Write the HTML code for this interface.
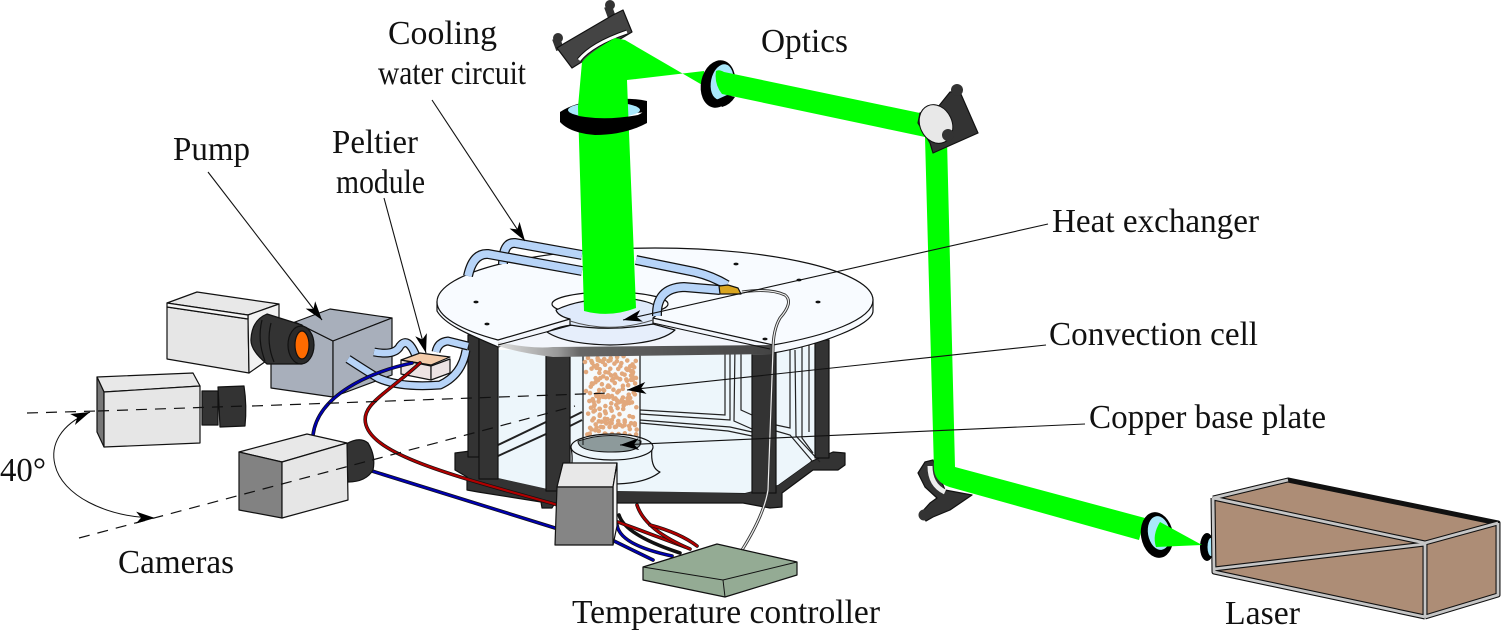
<!DOCTYPE html>
<html><head><meta charset="utf-8"><style>
html,body{margin:0;padding:0;background:#fff}
svg{display:block}
text{font-family:"Liberation Serif",serif;font-size:34px;fill:#111}
.k{stroke:#111;stroke-width:1.2;stroke-linejoin:round}
</style></head><body>
<svg width="1501" height="635" viewBox="0 0 1501 635" xmlns="http://www.w3.org/2000/svg">
<defs>
<marker id="a" markerUnits="userSpaceOnUse" markerWidth="22" markerHeight="14" refX="20" refY="7" orient="auto"><path d="M20,7 L1,1 L6,7 L1,13Z" fill="#000"/></marker>
<linearGradient id="band" x1="0" x2="1" y1="0" y2="0"><stop offset="0" stop-color="#ddd"/><stop offset=".22" stop-color="#999"/><stop offset=".3" stop-color="#666"/><stop offset="1" stop-color="#444"/></linearGradient>
</defs>

<!-- base / feet -->
<path class="k" fill="#333" d="M455,453 L478,450 L500,468 L500,478 L546,488 L745,493 L778,485 L810,462 L833,452 L845,453 L845,465 L838,470 L813,470 L782,493 L782,507 L770,508 L743,503 L555,503 L552,508 L542,508 L541,502 L478,492 L467,490 L467,477 L455,470Z"/>
<!-- glass -->
<path fill="#edf6fb" d="M498,350 L772,350 L829,345 L815,456 L810,462 L778,485 L745,493 L552,490 L498,478Z"/>
<!-- back panes -->
<g fill="none" stroke="#222" stroke-width="1.2">
<path d="M725,342 L725,415 L640,410"/><path d="M730,342 L730,420 L640,414"/>
<path d="M735,345 L734,421 L752,429"/><path d="M741,345 L741,410 L752,415"/>
<path d="M640,420 L730,427 L752,432"/><path d="M640,423 L728,431 L752,436"/>
<path d="M790,350 L790,428 L776,425"/><path d="M795,350 L796,436 L820,462"/><path d="M802,345 L802,438 L813,453"/><path d="M809,345 L809,432"/>
<path d="M776,431 L790,435 L813,462"/>
</g>
<g fill="none" stroke="#222" stroke-width="2"><path d="M498,445 L546,422"/><path d="M498,456 L546,434"/><path d="M570,418 L582,412"/><path d="M570,426 L582,420"/></g>
<!-- back posts -->
<rect class="k" x="468" y="335" width="11" height="122" fill="#333"/>
<rect class="k" x="815" y="340" width="14" height="118" fill="#333"/>
<!-- cylinder -->
<path class="k" fill="#f6fafc" d="M583,352 L640,352 L640,445 L583,445Z"/>
<g fill="none" stroke="#e2a87c" stroke-width="4.6" stroke-linecap="round" stroke-dasharray="0 6.5">
<path d="M588,358 L600,372 L590,386 L612,370 L596,358 L622,362 L610,384 L596,396 L622,378 L636,360 L630,384 L612,396 L588,400 L604,412 L628,398 L637,408"/>
<path d="M586,372 L606,360 L634,372 L618,392 L602,384 L588,414 L610,404 L634,392 L620,414 L596,424 L586,436 L612,420 L636,424 L624,434 L604,434"/>
<path d="M594,366 L616,378 L630,368 L638,392 L622,404 L606,394 L592,408 L616,428 L632,414 L638,434 L616,438 L596,430"/>
<path d="M585,362 L625,356 L637,380 L600,378 L585,392 L632,402 L590,420 L630,426 L588,428"/>
</g>
<!-- pedestal -->
<path class="k" fill="#edf6fb" d="M571,447 Q575,470 565,476 Q585,484 612,484 Q645,484 660,472 Q650,468 652,448Z"/>
<ellipse class="k" cx="612" cy="447" rx="41" ry="13" fill="#edf6fb"/>
<path d="M578,441 Q578,452 612,452 Q642,452 641,441 Q612,430 578,441Z" fill="#8d9a9b" stroke="#111"/>
<path d="M583,420 L583,445 M640,420 L640,445" stroke="#111" fill="none"/>
<!-- front posts -->
<rect class="k" x="479" y="338" width="19" height="141" fill="#333"/>
<rect class="k" x="546" y="350" width="24" height="141" fill="#333"/>
<rect class="k" x="752" y="350" width="24" height="143" fill="#333"/>
<!-- disc -->
<path fill="#f8fbff" stroke="#111" stroke-width="1.2" d="M437,302 L437,311 C445,325 470,335 498,347 L572,326 L653,325 L773,353 C820,345 873,325 873,311 L873,300Z"/>
<path fill="#f3f6fc" d="M498,342 L570,319 L653,318 L773,345 L772,354 L553,356Z"/>
<path class="k" fill="#e6eefb" d="M547,332 Q560,326 572,325 L653,324 L675,330 Q660,344 610,345 Q565,344 547,332Z"/>
<path fill="url(#band)" d="M498,342 Q530,349 553,347 L772,345 L772,354 L553,357 Q520,353 498,346Z"/>
<path class="k" fill="#f8fbff" d="M498,340 C460,330 437,316 437,302 C437,272 535,248 655,248 C775,248 873,272 873,300 C873,320 825,336 773,345 L653,318 L570,319Z"/>
<path d="M498,345 L572,325 M653,323 L770,349" stroke="#111" fill="none"/>
<ellipse class="k" cx="610" cy="304" rx="58" ry="12" fill="#fff"/>
<path class="k" fill="#dfeafb" d="M570,325 L570,319 Q558,316 556,310 Q580,298 625,298 Q660,302 660,312 L653,318 L653,324 Q610,332 570,325Z"/>
<path d="M570,321 Q610,334 653,320" stroke="#555" fill="none"/>
<g fill="#111"><ellipse cx="476" cy="302" rx="2.6" ry="1.4"/><ellipse cx="487" cy="324" rx="2.6" ry="1.4"/><ellipse cx="736" cy="264" rx="2.6" ry="1.4"/><ellipse cx="799" cy="280" rx="2.6" ry="1.4"/><ellipse cx="818" cy="302" rx="2.6" ry="1.4"/><ellipse cx="765" cy="339" rx="2.6" ry="1.4"/></g>
<!-- tubes on disc -->
<g fill="none">
<path stroke="#111" stroke-width="10" d="M503,264 Q503,242 515,243 L582,255"/>
<path stroke="#b7d4f8" stroke-width="7.5" d="M503,264 Q503,242 515,243 L582,255"/>
<path stroke="#111" stroke-width="10" d="M468,276 Q473,253 488,254 L582,271"/>
<path stroke="#b7d4f8" stroke-width="7.5" d="M468,276 Q473,253 488,254 L582,271"/>
<path stroke="#111" stroke-width="10" d="M636,260 L695,272 Q712,276 727,285"/>
<path stroke="#b7d4f8" stroke-width="7.5" d="M636,260 L695,272 Q712,276 727,285"/>
<path stroke="#111" stroke-width="10" d="M657,316 Q656,288 684,287 L720,290"/>
<path stroke="#b7d4f8" stroke-width="7.5" d="M657,316 Q656,288 684,287 L720,290"/>
</g>
<path class="k" fill="#d9a520" d="M719,286 L728,285 L738,288 L741,294 L720,294Z"/>
<!-- wire -->
<g fill="none"><path stroke="#333" stroke-width="3" d="M742,292 Q770,288 785,295 Q794,302 780,318 Q773,330 773,350 L768,490 Q764,515 742,550"/><path stroke="#eee" stroke-width="1.2" d="M742,292 Q770,288 785,295 Q794,302 780,318 Q773,330 773,350 L768,490 Q764,515 742,550"/></g>
<!-- pump box -->
<path class="k" fill="#a8afbb" d="M271,340 L295,322 L333,341 L333,397 L271,388Z"/>
<path class="k" fill="#a8afbb" d="M295,322 L330,309 L392,318 L333,341Z"/>
<path class="k" fill="#a8afbb" d="M333,341 L392,318 L392,375 L333,397Z"/>
<!-- Peltier tubes -->
<g fill="none">
<path stroke="#111" stroke-width="9" d="M374,352 Q395,356 400,346 Q408,336 416,356"/>
<path stroke="#b7d4f8" stroke-width="6.5" d="M374,352 Q395,356 400,346 Q408,336 416,356"/>
<path stroke="#111" stroke-width="9" d="M348,359 Q368,372 378,378 Q400,388 440,385 Q462,375 466,350"/>
<path stroke="#b7d4f8" stroke-width="6.5" d="M348,359 Q368,372 378,378 Q400,388 440,385 Q462,375 466,350"/>
<path stroke="#111" stroke-width="9" d="M436,352 Q438,342 448,341 L468,346"/>
<path stroke="#b7d4f8" stroke-width="6.5" d="M436,352 Q438,342 448,341 L468,346"/>
</g>
<path class="k" fill="#ede3e3" d="M401,360 L431,366 L431,380 L401,374Z"/><path class="k" fill="#ede3e3" d="M431,366 L450,359 L450,373 L431,380Z"/>
<path class="k" fill="#f4ccaa" d="M401,360 L420,353 L450,357 L431,365Z"/>
<!-- cables -->
<g fill="none" stroke-linecap="round">
<path stroke="#111" stroke-width="3.6" d="M412,363 C370,372 318,395 313,435"/><path stroke="#0000b0" stroke-width="2.2" d="M412,363 C370,372 318,395 313,435"/>
<path stroke="#111" stroke-width="3.6" d="M372,471 L555,528"/><path stroke="#0000b0" stroke-width="2.2" d="M372,471 L555,528"/>
<path stroke="#111" stroke-width="3.6" d="M420,363 C385,395 360,405 366,425 C375,455 450,475 558,505"/><path stroke="#b00000" stroke-width="2.2" d="M420,363 C385,395 360,405 366,425 C375,455 450,475 558,505"/>
<path stroke="#111" stroke-width="3.6" d="M612,540 L653,560"/><path stroke="#0000b0" stroke-width="2.2" d="M612,540 L653,560"/>
<path stroke="#111" stroke-width="3.6" d="M617,525 Q620,545 672,556"/><path stroke="#0000b0" stroke-width="2.2" d="M617,525 Q620,545 672,556"/>
<path stroke="#111" stroke-width="3.6" d="M619,515 Q625,535 680,553"/>
<path stroke="#111" stroke-width="3.6" d="M618,522 L685,547"/><path stroke="#b00000" stroke-width="2.2" d="M618,522 L685,547"/>
<path stroke="#111" stroke-width="3.6" d="M637,505 Q645,530 690,549"/><path stroke="#b00000" stroke-width="2.2" d="M637,505 Q645,530 690,549"/>
<path stroke="#111" stroke-width="3.6" d="M650,525 Q680,533 697,546"/><path stroke="#b00000" stroke-width="2.2" d="M650,525 Q680,533 697,546"/>
</g>
<!-- small box -->
<path class="k" fill="#e8e8e8" d="M563,463 L617,463 L613,487 L557,487Z"/>
<path class="k" fill="#f2f2f2" d="M613,487 L617,463 L617,526 L613,545Z"/>
<path class="k" fill="#858585" d="M557,487 L613,487 L613,545 L555,545Z"/>
<!-- controller -->
<path class="k" fill="#94ab94" d="M643,567 L717,544 L797,562 L797,575 L725,597 L643,580Z"/>
<path stroke="#111" fill="none" d="M643,567 L723,580 L797,562 M723,580 L725,597"/>
<!-- cameras -->
<g class="k">
<path fill="#e8e8e8" d="M167,303 L197,292 L279,304 L248,315Z"/><path fill="#e6e6e6" d="M167,307 L248,319 L249,373 L167,359Z"/><path fill="#f2f2f2" d="M248,315 L279,304 L279,352 L249,373Z"/>
<path d="M167,303 L248,315 L248,319 L167,307Z" fill="#f6f6f6"/>
<path fill="#333" d="M267,314 L302,325 L314,345 L302,364 L267,364 Q250,350 251,339 Q252,320 267,314Z"/>
<ellipse cx="301" cy="345" rx="13" ry="19" fill="#2a2a2a"/><ellipse cx="302" cy="345" rx="7" ry="14" fill="#ff6b00"/>
<path fill="none" d="M262,320 Q257,340 265,361 M271,323 Q266,343 274,362"/>

<path fill="#e8e8e8" d="M97,377 L193,373 L200,386 L104,392Z"/><path fill="#777" d="M97,377 L104,392 L104,447 L97,432Z"/><path fill="#e6e6e6" d="M104,392 L200,386 L200,443 L104,447Z"/>
<path fill="#333" d="M202,391 L218,391 L218,425 L202,425Z"/><path fill="#333" d="M218,387 L244,386 Q247,406 245,426 L220,427Z"/>

<path fill="#333" d="M346,444 Q360,436 368,443 Q376,456 373,470 Q366,482 348,482Z"/>
<path fill="#e8e8e8" d="M239,452 L307,434 L347,443 L282,462Z"/><path fill="#828282" d="M239,452 L282,462 L282,518 L239,510Z"/><path fill="#e6e6e6" d="M282,462 L347,443 L348,500 L282,518Z"/>
</g>
<!-- dashed lines -->
<g fill="none" stroke="#111" stroke-width="1.2" stroke-dasharray="11 8">
<path d="M27,413 L98,411"/><path d="M98,411 L245,406"/><path d="M252,406 L610,393"/>
<path d="M79,538 L372,460"/><path d="M372,460 L575,406"/>
</g>
<path fill="none" stroke="#111" stroke-width="1" marker-end="url(#a)" d="M55,465 C62,495 105,517 155,518"/>
<path fill="none" stroke="#111" stroke-width="1" marker-end="url(#a)" d="M55,465 C50,445 60,425 90,412"/>
<!-- mirror 1 -->
<circle cx="558" cy="38" r="5" fill="#333"/><rect x="554" y="38" width="8" height="12" fill="#333" transform="rotate(-20 558 44)"/>
<circle cx="610" cy="5" r="5" fill="#333"/><rect x="606" y="6" width="8" height="12" fill="#333" transform="rotate(-20 610 12)"/>
<path class="k" fill="#444" d="M557,48 L565,43 L613,15 L623,10 L632,32 L580,63 L572,68Z"/>
<path fill="none" stroke="#111" stroke-width="5" d="M579,60 Q592,44 627,32"/>
<path fill="none" stroke="#fff" stroke-width="3" d="M579,60 Q592,44 627,32"/>
<!-- mirror 3 -->
<path class="k" fill="#333" d="M918,473 L925,462 L933,460 L945,490 L972,495 L950,510 L933,517 L926,521 L921,513 L930,503 L937,498 L925,487Z"/>
<circle cx="924" cy="515" r="5.5" fill="#333"/>
<path fill="none" stroke="#eee" stroke-width="5" d="M930,466 Q930,485 945,492"/>
<!-- top ring back -->
<path fill="#000" d="M560,112 Q575,102 600,100 Q630,97 647,101 L647,112 L560,120Z"/>
<ellipse cx="604" cy="110" rx="36" ry="8" fill="#a8e8fb"/>
<!-- beam A -->
<path fill="#00ff00" d="M582,62 Q590,52 615,38 L625,40 L704,86 L704,71 L627,80 L628,107 L636,308 Q610,318 584,311 L578,107Z"/>
<!-- top ring front -->
<path fill="#000" d="M560,112 Q566,113 570,114 Q600,122 638,115 Q645,112 647,106 L647,123 Q625,135 595,135 Q570,133 560,122Z"/>
<!-- lens 2 -->
<ellipse cx="718" cy="84" rx="17" ry="24" fill="#000" transform="rotate(12 718 84)"/>
<ellipse cx="722" cy="82" rx="11" ry="18" fill="#a8e8fb" transform="rotate(12 722 82)"/>
<!-- beam B: lens 2 to mirror 3 -->
<path fill="#00ff00" d="M716,71 Q719,69 724,72 L920,113 L925,127 L947,140 L955,467 L1145,518 L1139,540 L953,488 Q936,484 934,470 L925,137 L722,94 Q714,84 716,71Z"/>
<path fill="#000" d="M727,95 L735,97 Q730,105 722,107 L716,100Z"/>
<!-- lens 3 -->
<ellipse cx="1157" cy="535" rx="16" ry="23" fill="#000" transform="rotate(-10 1157 535)"/>
<ellipse cx="1159" cy="533" rx="11" ry="17" fill="#a8e8fb" transform="rotate(-10 1159 533)"/>
<!-- lens 4 -->
<ellipse cx="1207" cy="547" rx="7" ry="14" fill="#000"/>
<ellipse cx="1211" cy="547" rx="3.5" ry="9" fill="#a8e8fb"/>
<!-- cone -->
<path fill="#00ff00" d="M1160,522 L1202,545 L1156,547 Q1152,535 1160,522Z"/>
<!-- mirror 2 -->
<path class="k" fill="#333" d="M920,113 L938,107 L950,92 L960,92 L978,133 L933,153 L930,143 L918,123Z"/>
<circle cx="957" cy="90" r="6" fill="#333"/>
<ellipse cx="936" cy="124" rx="16" ry="20" fill="#e8e8e8" stroke="#111" transform="rotate(-25 936 124)"/>
<circle cx="948" cy="135" r="6" fill="#333"/>
<!-- laser -->
<path fill="#ad8d76" stroke="#111" stroke-width="1.4" stroke-linejoin="round" d="M1213,498 L1288,480 L1498,523 L1498,595 L1425,617 L1214,572Z"/>
<g fill="none" stroke="#111" stroke-width="5" stroke-linejoin="round">
<path d="M1213,498 L1425,543 L1498,523 M1425,543 L1425,617 M1213,498 L1214,572 L1425,617 M1214,569 L1425,544 M1213,498 L1288,480 L1498,523 L1498,595 L1425,617"/>
</g>
<g fill="none" stroke="#c6c6c6" stroke-width="2.8" stroke-linejoin="round">
<path d="M1213,498 L1425,543 L1498,523 M1425,543 L1425,617 M1213,498 L1214,572 L1425,617 M1214,569 L1425,544 M1213,498 L1288,480 M1498,523 L1498,595 L1425,617"/>
</g>
<!-- leaders -->
<g fill="none" stroke="#111" stroke-width="1.1" marker-end="url(#a)">
<path d="M208,172 L322,320"/><path d="M384,198 L426,353"/><path d="M432,100 L525,241"/>
<path d="M1048,224 L623,320"/><path d="M1046,345 L627,390"/><path d="M1085,424 L620,445"/>
</g>
<!-- labels -->
<text x="388" y="44" textLength="109" lengthAdjust="spacingAndGlyphs">Cooling</text>
<text x="378" y="84" textLength="148" lengthAdjust="spacingAndGlyphs">water circuit</text>
<text x="761" y="52" textLength="87" lengthAdjust="spacingAndGlyphs">Optics</text>
<text x="173" y="160" textLength="77" lengthAdjust="spacingAndGlyphs">Pump</text>
<text x="332" y="153" textLength="86" lengthAdjust="spacingAndGlyphs">Peltier</text>
<text x="336" y="193" textLength="89" lengthAdjust="spacingAndGlyphs">module</text>
<text x="1052" y="232" textLength="207" lengthAdjust="spacingAndGlyphs">Heat exchanger</text>
<text x="1049" y="345" textLength="209" lengthAdjust="spacingAndGlyphs">Convection cell</text>
<text x="1089" y="428" textLength="237" lengthAdjust="spacingAndGlyphs">Copper base plate</text>
<text x="0" y="481" textLength="46" lengthAdjust="spacingAndGlyphs">40°</text>
<text x="118" y="573" textLength="116" lengthAdjust="spacingAndGlyphs">Cameras</text>
<text x="572" y="623" textLength="308" lengthAdjust="spacingAndGlyphs">Temperature controller</text>
<text x="1225" y="624" textLength="75" lengthAdjust="spacingAndGlyphs">Laser</text>
</svg>
</body></html>
